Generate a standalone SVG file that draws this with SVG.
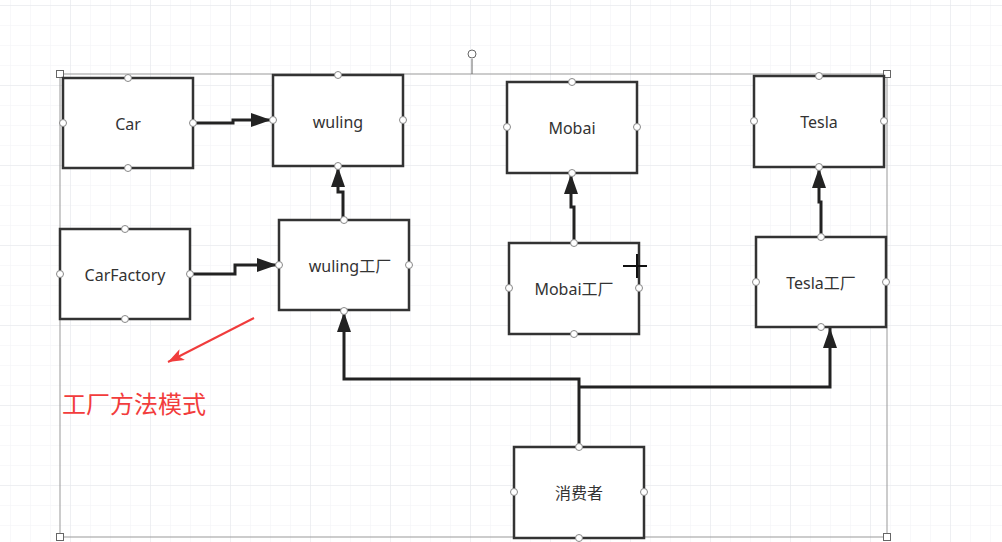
<svg xmlns="http://www.w3.org/2000/svg" width="1002" height="542" viewBox="0 0 1002 542">
<defs>
<pattern id="minor" x="10" y="5" width="20" height="20" patternUnits="userSpaceOnUse"><path d="M0 0V20M0 0H20" fill="none" stroke="#f1f2f5" stroke-width="1"/></pattern>
<pattern id="major" x="70" y="5" width="80" height="80" patternUnits="userSpaceOnUse"><path d="M0 0V80M0 0H80" fill="none" stroke="#e4e6ea" stroke-width="1"/></pattern>
<marker id="arr" viewBox="0 0 20 14" refX="20" refY="7" markerWidth="20" markerHeight="14" markerUnits="userSpaceOnUse" orient="auto"><path d="M0 0L20 7L0 14Z" fill="#222"/></marker>
<marker id="rarr" viewBox="0 0 16 12" refX="16" refY="6" markerWidth="16" markerHeight="12" markerUnits="userSpaceOnUse" orient="auto"><path d="M0 0L16 6L0 12L4 6Z" fill="#f03c3c"/></marker>
</defs>
<style>
.box{fill:#fff;stroke:#333;stroke-width:2.5}
.lbl{font-family:"Noto Sans","Noto Sans CJK SC",sans-serif;font-size:16px;fill:#333;text-anchor:middle;dominant-baseline:central}
.pt{fill:#fff;stroke:#888;stroke-width:1}
.con{fill:none;stroke:#222;stroke-width:3}
.sel{fill:none;stroke:#999;stroke-width:1}
.hd{fill:#fff;stroke:#666;stroke-width:1}
</style>
<rect width="1002" height="542" fill="#fff"/>
<rect width="1002" height="542" fill="url(#minor)"/>
<rect width="1002" height="542" fill="url(#major)"/>
<g id="selection">
<rect class="sel" x="60" y="74" width="827" height="463"/>
<line x1="472" y1="59" x2="472" y2="74" stroke="#666" stroke-width="1"/>
<circle cx="472" cy="54" r="4" class="hd"/>
<rect class="hd" x="56.5" y="70.5" width="7" height="7"/>
<rect class="hd" x="883.5" y="70.5" width="7" height="7"/>
<rect class="hd" x="56.5" y="533.5" width="7" height="7"/>
<rect class="hd" x="883.5" y="533.5" width="7" height="7"/>
</g>
<g id="connectors">
<path class="con" d="M193 123H233V120H271" marker-end="url(#arr)"/>
<path class="con" d="M190 274H235V265H277" marker-end="url(#arr)"/>
<path class="con" d="M343 220V192H338V167" marker-end="url(#arr)"/>
<path class="con" d="M574 243V207H571V174" marker-end="url(#arr)"/>
<path class="con" d="M821 237V202H819V168" marker-end="url(#arr)"/>
<path class="con" d="M579 446V379H344V312" marker-end="url(#arr)"/>
<path class="con" d="M579 387H830V328" marker-end="url(#arr)"/>
</g>
<g id="car"><rect class="box" x="63" y="78" width="130" height="90"/><text class="lbl" x="128" y="124">Car</text>
<circle class="pt" cx="128" cy="78" r="3.5"/><circle class="pt" cx="128" cy="168" r="3.5"/><circle class="pt" cx="63" cy="123" r="3.5"/><circle class="pt" cx="193" cy="123" r="3.5"/></g>
<g id="wuling"><rect class="box" x="273" y="75" width="130" height="91"/><text class="lbl" x="338" y="122">wuling</text>
<circle class="pt" cx="338" cy="75" r="3.5"/><circle class="pt" cx="338" cy="166" r="3.5"/><circle class="pt" cx="273" cy="120" r="3.5"/><circle class="pt" cx="403" cy="120" r="3.5"/></g>
<g id="carfactory"><rect class="box" x="60" y="229" width="130" height="90"/><text class="lbl" x="125" y="275">CarFactory</text>
<circle class="pt" cx="125" cy="229" r="3.5"/><circle class="pt" cx="125" cy="319" r="3.5"/><circle class="pt" cx="60" cy="274" r="3.5"/><circle class="pt" cx="190" cy="274" r="3.5"/></g>
<g id="wulingfactory"><rect class="box" x="279" y="220" width="130" height="90"/><text class="lbl" x="350" y="266">wuling工厂</text>
<circle class="pt" cx="344" cy="220" r="3.5"/><circle class="pt" cx="344" cy="311" r="3.5"/><circle class="pt" cx="279" cy="265" r="3.5"/><circle class="pt" cx="409" cy="265" r="3.5"/></g>
<g id="mobai"><rect class="box" x="507" y="82" width="130" height="91"/><text class="lbl" x="572" y="128">Mobai</text>
<circle class="pt" cx="572" cy="82" r="3.5"/><circle class="pt" cx="572" cy="173" r="3.5"/><circle class="pt" cx="507" cy="127" r="3.5"/><circle class="pt" cx="637" cy="127" r="3.5"/></g>
<g id="mobaifactory"><rect class="box" x="509" y="243" width="130" height="91"/><text class="lbl" x="574" y="289">Mobai工厂</text>
<circle class="pt" cx="574" cy="243" r="3.5"/><circle class="pt" cx="574" cy="334" r="3.5"/><circle class="pt" cx="509" cy="288" r="3.5"/><circle class="pt" cx="639" cy="288" r="3.5"/></g>
<g id="tesla"><rect class="box" x="754" y="76" width="130" height="91"/><text class="lbl" x="819" y="122">Tesla</text>
<circle class="pt" cx="819" cy="76" r="3.5"/><circle class="pt" cx="819" cy="167" r="3.5"/><circle class="pt" cx="754" cy="121" r="3.5"/><circle class="pt" cx="884" cy="121" r="3.5"/></g>
<g id="teslafactory"><rect class="box" x="756" y="237" width="130" height="90"/><text class="lbl" x="821" y="283">Tesla工厂</text>
<circle class="pt" cx="821" cy="237" r="3.5"/><circle class="pt" cx="821" cy="327" r="3.5"/><circle class="pt" cx="756" cy="282" r="3.5"/><circle class="pt" cx="886" cy="282" r="3.5"/></g>
<g id="consumer"><rect class="box" x="514" y="447" width="130" height="91"/><text class="lbl" x="579" y="493">消费者</text>
<circle class="pt" cx="579" cy="447" r="3.5"/><circle class="pt" cx="579" cy="538" r="3.5"/><circle class="pt" cx="514" cy="492" r="3.5"/><circle class="pt" cx="644" cy="492" r="3.5"/></g>
<g id="annotation">
<line x1="254" y1="318" x2="168" y2="362" stroke="#f03c3c" stroke-width="2" marker-end="url(#rarr)"/>
<text x="62" y="413" font-family="'Noto Sans CJK SC',sans-serif" font-size="24" fill="#f23c3c">工厂方法模式</text>
</g>
<g id="cursor" stroke="#111" stroke-width="2"><line x1="623" y1="266" x2="647" y2="266"/><line x1="637" y1="254" x2="637" y2="278"/></g>
</svg>
